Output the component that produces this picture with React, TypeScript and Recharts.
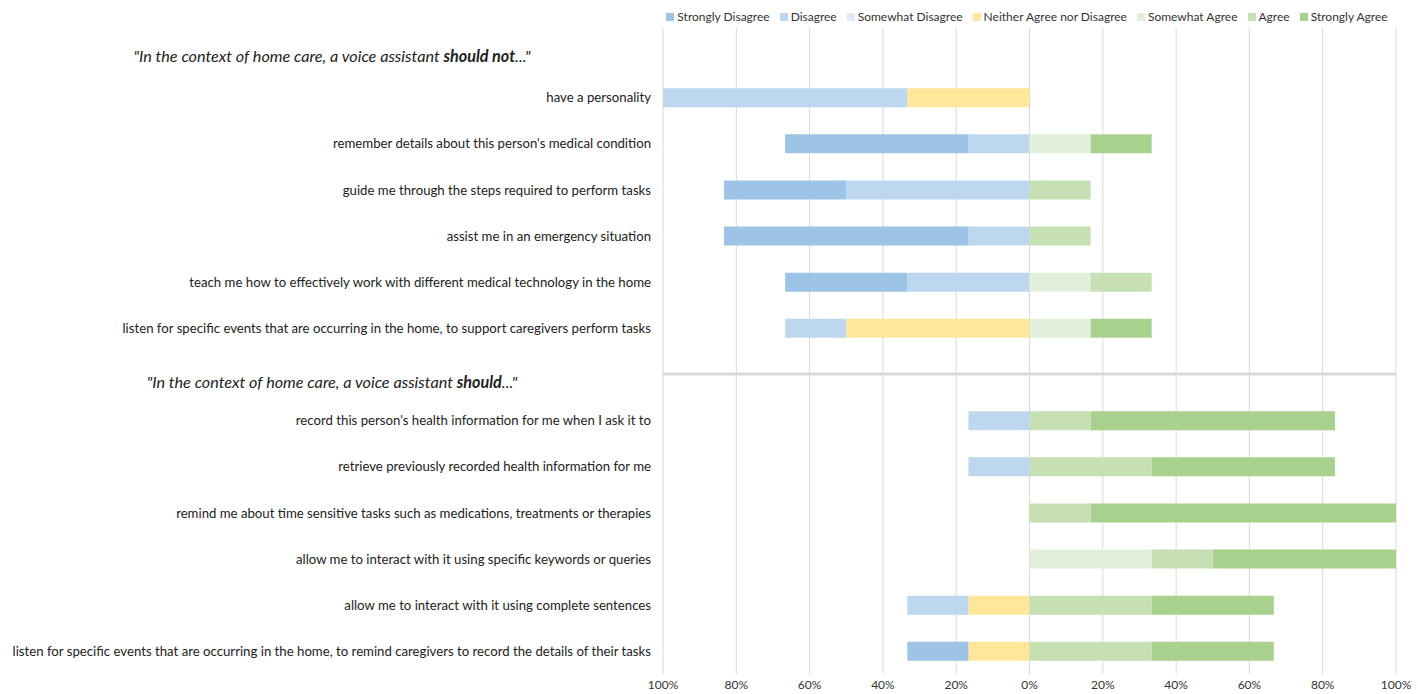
import { BarChart, Bar, XAxis, YAxis, CartesianGrid, ReferenceLine } from "recharts"

// rows top to bottom; "__h1" / "__sep" are spacer rows for the two section headers
const statements = [
  "__h1",
  "have a personality",
  "remember details about this person's medical condition",
  "guide me through the steps required to perform tasks",
  "assist me in an emergency situation",
  "teach me how to effectively work with different medical technology in the home",
  "listen for specific events that are occurring in the home, to support caregivers perform tasks",
  "__sep",
  "record this person's health information for me when I ask it to",
  "retrieve previously recorded health information for me",
  "remind me about time sensitive tasks such as medications, treatments or therapies",
  "allow me to interact with it using specific keywords or queries",
  "allow me to interact with it using complete sentences",
  "listen for specific events that are occurring in the home, to remind caregivers to record the details of their tasks",
]

// percent of respondents; disagree side and neutral are drawn to the left (negative)
const stronglyDisagree = [0, 0, -50, -33.33, -66.67, -33.33, 0, 0, 0, 0, 0, 0, 0, -16.67]
const disagree = [0, -66.67, -16.67, -50, -16.67, -33.33, -16.67, 0, -16.67, -16.67, 0, 0, -16.67, 0]
const somewhatDisagree = [0, 0, 0, 0, 0, 0, 0, 0, 0, 0, 0, 0, 0, 0]
const neither = [0, -33.33, 0, 0, 0, 0, -50, 0, 0, 0, 0, 0, -16.67, -16.67]
const somewhatAgree = [0, 0, 16.67, 0, 0, 16.67, 16.67, 0, 0, 0, 0, 33.33, 0, 0]
const agree = [0, 0, 0, 16.67, 16.67, 16.67, 0, 0, 16.67, 33.33, 16.67, 16.67, 33.33, 33.33]
const stronglyAgree = [0, 0, 16.67, 0, 0, 0, 16.67, 0, 66.67, 50, 83.33, 50, 33.33, 33.33]

const xTicks = [-100, -80, -60, -40, -20, 0, 20, 40, 60, 80, 100]

const series = [
  { key: "sd", name: "Strongly Disagree", color: "#9DC3E6", values: stronglyDisagree },
  { key: "d", name: "Disagree", color: "#BDD7EE", values: disagree },
  { key: "swd", name: "Somewhat Disagree", color: "#DEEBF7", values: somewhatDisagree },
  { key: "n", name: "Neither Agree nor Disagree", color: "#FFE699", values: neither },
  { key: "swa", name: "Somewhat Agree", color: "#E2EFDA", values: somewhatAgree },
  { key: "a", name: "Agree", color: "#C6E0B4", values: agree },
  { key: "sa", name: "Strongly Agree", color: "#A9D18E", values: stronglyAgree },
]

// stacking order outward from zero
const stackOrder = ["n", "swd", "d", "sd", "swa", "a", "sa"]

const data = statements.map((label, i) => {
  const row: Record<string, string | number> = { label }
  series.forEach((s) => {
    row[s.key] = s.values[i]
  })
  return row
})

const font = "Lato, 'Liberation Sans', sans-serif"

// plain one-line tick so long statements don't wrap
function StatementTick(props: any) {
  const { x, y, payload } = props
  const v: string = payload.value
  if (v.startsWith("__")) return null
  return (
    <text x={x} y={y} dy={5} textAnchor="end" fill="#222" fontSize={13.2} fontFamily={font}>
      {v}
    </text>
  )
}

export default function App() {
  return (
    <div style={{ position: "absolute", left: 0, top: 0, width: 1418, height: 694, fontFamily: font, color: "#222" }}>
      <div
        style={{
          position: "absolute",
          left: 663,
          width: 728,
          top: 9,
          display: "flex",
          justifyContent: "center",
          gap: 10,
          fontSize: 12,
          color: "#333",
        }}
      >
        {series.map((s) => (
          <div key={s.key} style={{ display: "flex", alignItems: "center" }}>
            <span style={{ width: 8, height: 8, background: s.color, marginRight: 3, display: "inline-block" }} />
            {s.name}
          </div>
        ))}
      </div>

      <div style={{ position: "absolute", left: 0, width: 664, top: 46, textAlign: "center", fontSize: 16.2, fontStyle: "italic" }}>
        "In the context of home care, a voice assistant <b>should not</b>..."
      </div>
      <div style={{ position: "absolute", left: 0, width: 664, top: 372, textAlign: "center", fontSize: 16.2, fontStyle: "italic" }}>
        "In the context of home care, a voice assistant <b>should</b>..."
      </div>

      <BarChart
        width={1418}
        height={694}
        data={data}
        layout="vertical"
        stackOffset="sign"
        barSize={19}
        margin={{ top: 28, right: 22, bottom: 0, left: 0 }}
      >
        <CartesianGrid horizontal={false} stroke="#d9d9d9" />
        <XAxis
          type="number"
          domain={[-100, 100]}
          ticks={xTicks}
          tickFormatter={(v: number) => `${Math.abs(v)}%`}
          axisLine={false}
          tickLine={false}
          tickMargin={0}
          height={20}
          tick={{ fill: "#333", fontSize: 12, fontFamily: font }}
          interval={0}
        />
        <YAxis
          type="category"
          dataKey="label"
          width={663}
          axisLine={false}
          tickLine={false}
          tickMargin={6}
          interval={0}
          tick={<StatementTick />}
        />
        <ReferenceLine y="__sep" stroke="#d9d9d9" strokeWidth={3} />
        {stackOrder.map((k) => {
          const s = series.find((x) => x.key === k)!
          return (
            <Bar key={k} dataKey={k} name={s.name} stackId="likert" fill={s.color} isAnimationActive={false} />
          )
        })}
      </BarChart>
    </div>
  )
}
